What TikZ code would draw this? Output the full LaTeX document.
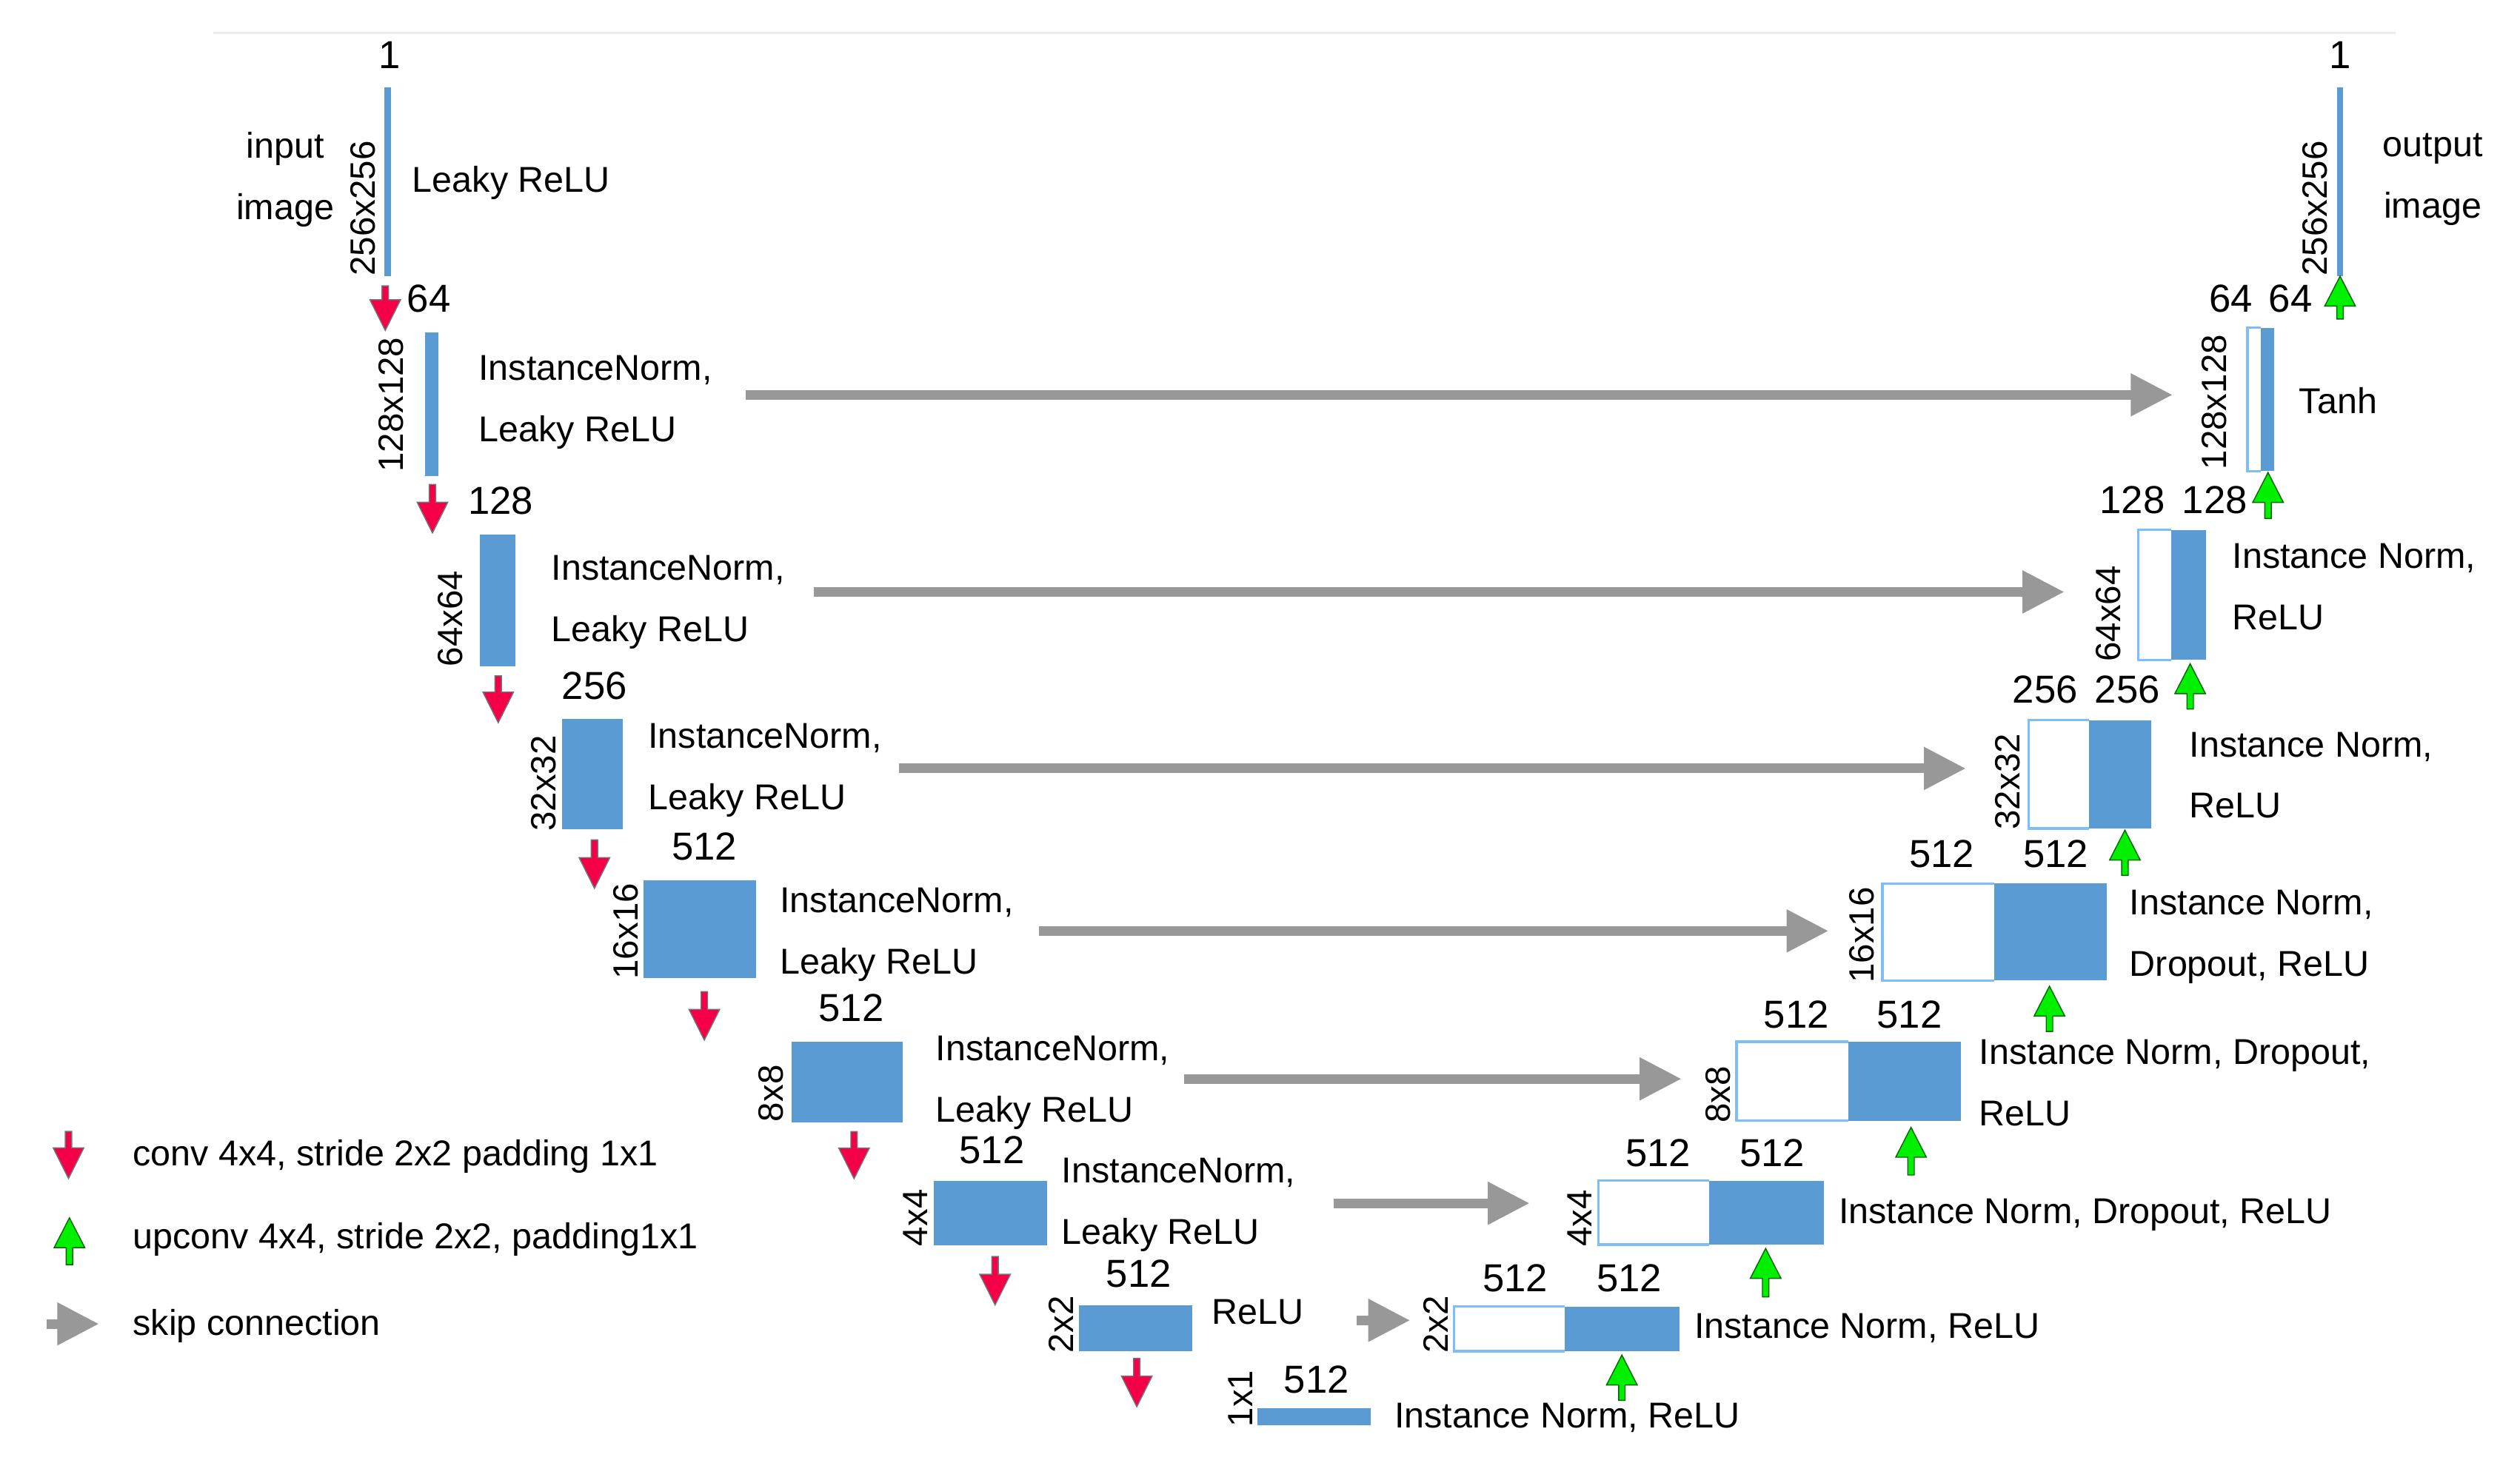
\documentclass[tikz,border=0pt]{standalone}
\usepackage{fontspec}
\setmainfont{Liberation Sans}
\usetikzlibrary{arrows.meta}
\definecolor{blk}{RGB}{91,155,211}
\definecolor{lbl}{RGB}{125,190,250}
\definecolor{redar}{RGB}{245,0,72}
\definecolor{grnar}{RGB}{0,240,0}
\definecolor{skipc}{RGB}{152,152,152}
\definecolor{topline}{RGB}{236,236,236}
% red conv arrow: x, top, tip
\newcommand\DnArr[3]{\filldraw[fill=redar,draw=black!55,line width=0.4pt] ({#1-2},#2) -- ({#1+2},#2) -- ({#1+2},{#3-19}) -- ({#1+9.5},{#3-19}) -- (#1,#3) -- ({#1-9.5},{#3-19}) -- ({#1-2},{#3-19}) -- cycle;}
% green upconv arrow: x, tip, bottom
\newcommand\UpArr[3]{\filldraw[fill=grnar,draw=black!50!green!80!black,line width=0.4pt] (#1,#2) -- ({#1+9.5},{#2+18.5}) -- ({#1+2},{#2+18.5}) -- ({#1+2},#3) -- ({#1-2},#3) -- ({#1-2},{#2+18.5}) -- ({#1-9.5},{#2+18.5}) -- cycle;}
% decoder block: x1, xm, x2, y1, y2
\newcommand\DecBox[5]{\fill[blk] (#2,#4) rectangle (#3,#5); \draw[lbl,line width=0.9pt] (#2,#4) -- (#1,#4) -- (#1,#5) -- (#2,#5);}
\begin{document}
\begin{tikzpicture}[x=0.021814cm,y=-0.021814cm,
  txt/.style={font=\fontsize{13.8}{23.6}\selectfont,anchor=west,align=left,inner sep=0pt},
  ctxt/.style={font=\fontsize{13.8}{23.6}\selectfont,align=center,inner sep=0pt},
  num/.style={font=\fontsize{15}{18}\selectfont,inner sep=0pt},
  dimlab/.style={font=\fontsize{13.5}{16}\selectfont,rotate=90,inner sep=0pt},
  skiparrow/.style={draw=skipc,line width=0.131cm,-{Triangle[length=0.567cm,width=0.545cm]}}]
\useasboundingbox (0,0) rectangle (1560,905.4);
\draw[topline,line width=0.8pt] (132,20.5) -- (1483,20.5);

% ---------------- encoder ----------------
\fill[blk] (238,54) rectangle (242,171);
\fill[blk] (263,205.7) rectangle (271.3,294.7);
\fill[blk] (297,331) rectangle (319,412.6);
\fill[blk] (348,445) rectangle (385.6,513.5);
\fill[blk] (398.5,545) rectangle (468,605.6);
\fill[blk] (490,645) rectangle (559,695);
\fill[blk] (578,731) rectangle (648,771);
\fill[blk] (668,808) rectangle (738,836.6);
\fill[blk] (778.4,872) rectangle (848.5,882.5);

\node[num] (n0) at (241,34) {1};
\node[num] (n1) at (265.5,185) {64};
\node[num] (n2) at (310,310) {128};
\node[num] (n3) at (368,424.5) {256};
\node[num] (n4) at (436,524) {512};
\node[num] (n5) at (527,624) {512};
\node[num] (n6) at (614,712) {512};
\node[num] (n7) at (705,788.5) {512};
\node[num] (n8) at (815,854) {512};

\node[dimlab] (d0) at (224.6,129) {256x256};
\node[dimlab] (d1) at (242,250.6) {128x128};
\node[dimlab] (d2) at (278.6,383) {64x64};
\node[dimlab] (d3) at (336.5,485) {32x32};
\node[dimlab] (d4) at (387.6,576.6) {16x16};
\node[dimlab] (d5) at (477.4,677) {8x8};
\node[dimlab] (d6) at (566.7,754) {4x4};
\node[dimlab] (d7) at (657,820) {2x2};
\node[dimlab] (d8) at (768,866) {1x1};

\node[ctxt] (inimg) at (176.6,111) {input\\image};
\node[txt] (t0) at (255,113) {Leaky ReLU};
\node[txt] (t1) at (296,249) {InstanceNorm,\\Leaky ReLU};
\node[txt] (t2) at (341,373) {InstanceNorm,\\Leaky ReLU};
\node[txt] (t3) at (401,477) {InstanceNorm,\\Leaky ReLU};
\node[txt] (t4) at (482.6,578.5) {InstanceNorm,\\Leaky ReLU};
\node[txt] (t5) at (579,670.5) {InstanceNorm,\\Leaky ReLU};
\node[txt] (t6) at (657,746) {InstanceNorm,\\Leaky ReLU};
\node[txt] (t7) at (750,812.5) {ReLU};
\node[txt] (t8) at (863,878) {Instance Norm, ReLU};

% ---------------- decoder ----------------
\fill[blk] (1446.6,54) rectangle (1450.6,171);
\DecBox{1391.3}{1399.5}{1407.6}{203}{291.6}
\DecBox{1323.7}{1344}{1365.8}{328}{408.5}
\DecBox{1256}{1293}{1331.7}{446}{513}
\DecBox{1165.3}{1234.5}{1304}{547}{607}
\DecBox{1075}{1144}{1214}{645}{694}
\DecBox{989.5}{1058}{1129}{731}{770.6}
\DecBox{900}{968.4}{1039.7}{809}{836.6}

\node[num] (m0) at (1448.6,34) {1};
\node[num] (m1a) at (1381,185) {64};
\node[num] (m1b) at (1418,185) {64};
\node[num] (m2a) at (1320,309.5) {128};
\node[num] (m2b) at (1371,309.5) {128};
\node[num] (m3a) at (1266,427) {256};
\node[num] (m3b) at (1317,427) {256};
\node[num] (m4a) at (1202,528.6) {512};
\node[num] (m4b) at (1272.6,528.6) {512};
\node[num] (m5a) at (1112,628) {512};
\node[num] (m5b) at (1182,628) {512};
\node[num] (m6a) at (1026.5,714) {512};
\node[num] (m6b) at (1097,714) {512};
\node[num] (m7a) at (938,791.6) {512};
\node[num] (m7b) at (1008.5,791.6) {512};

\node[dimlab] (e0) at (1433,129) {256x256};
\node[dimlab] (e1) at (1370.7,249) {128x128};
\node[dimlab] (e2) at (1305,380) {64x64};
\node[dimlab] (e3) at (1243,484) {32x32};
\node[dimlab] (e4) at (1152.7,579) {16x16};
\node[dimlab] (e5) at (1063.5,677.6) {8x8};
\node[dimlab] (e6) at (978,754.4) {4x4};
\node[dimlab] (e7) at (889,820) {2x2};

\node[ctxt] (outimg) at (1506,111) {output\\image};
\node[txt] (u1) at (1423,248) {Tanh};
\node[txt] (u2) at (1381.6,363.5) {Instance Norm,\\ReLU};
\node[txt] (u3) at (1355,480) {Instance Norm,\\ReLU};
\node[txt] (u4) at (1318,580) {Instance Norm,\\Dropout, ReLU};
\node[txt] (u5) at (1225,670.5) {Instance Norm, Dropout,\\ReLU};
\node[txt] (u6) at (1138,752) {Instance Norm, Dropout, ReLU};
\node[txt] (u7) at (1048.6,822.5) {Instance Norm, ReLU};

% ---------------- skip connections ----------------
\coordinate (s1a) at (461.7,244.5); \coordinate (s1b) at (1345,244.5);
\coordinate (s2a) at (503.8,366.5); \coordinate (s2b) at (1278,366.5);
\coordinate (s3a) at (556.5,475.8); \coordinate (s3b) at (1217,475.8);
\coordinate (s4a) at (643,576.4);   \coordinate (s4b) at (1132,576.4);
\coordinate (s5a) at (733,668);     \coordinate (s5b) at (1041,668);
\coordinate (s6a) at (825.6,745);   \coordinate (s6b) at (947,745);
\coordinate (s7a) at (840,817.5);   \coordinate (s7b) at (873,817.5);
\foreach \i in {1,...,7} {\draw[skiparrow] (s\i a) -- (s\i b);}

% ---------------- conv / upconv arrows ----------------
\DnArr{238.5}{177}{204.6}
\DnArr{267.7}{300}{330}
\DnArr{308.4}{418.5}{447.5}
\DnArr{368}{520}{550}
\DnArr{436}{614}{644}
\DnArr{528.7}{700.6}{729.8}
\DnArr{616}{778}{808}
\DnArr{703.7}{841}{871}

\UpArr{1448.6}{171}{197.5}
\UpArr{1404}{292.6}{321}
\UpArr{1355.8}{411}{439}
\UpArr{1315.4}{514}{542}
\UpArr{1268.7}{610.6}{638.6}
\UpArr{1183}{698}{727.5}
\UpArr{1093}{773}{803}
\UpArr{1004}{839}{867}

% ---------------- legend ----------------
\DnArr{42.4}{700.5}{729.7}
\UpArr{43}{754}{783}
\coordinate (lga) at (28.7,819.7); \coordinate (lgb) at (61.4,819.7);
\draw[skiparrow] (lga) -- (lgb);
\node[txt] (lg1) at (82,716) {conv 4x4, stride 2x2 padding 1x1};
\node[txt] (lg2) at (82,767.5) {upconv 4x4, stride 2x2, padding1x1};
\node[txt] (lg3) at (82,821) {skip connection};
\end{tikzpicture}
\end{document}
